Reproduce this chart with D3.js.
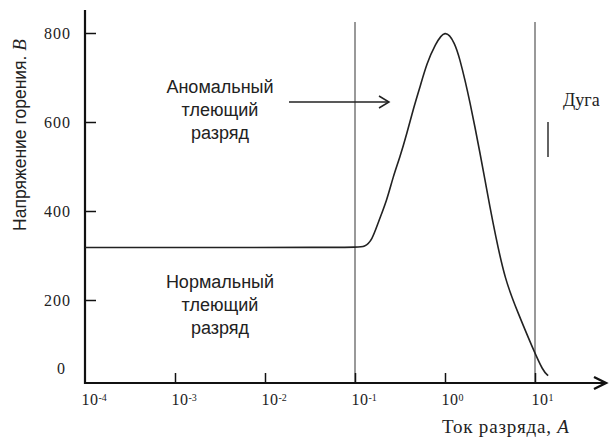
<!DOCTYPE html>
<html lang="ru">
<head>
	<meta charset="UTF-8">
	<title>ВАХ разряда</title>
	<script src="https://cdn.jsdelivr.net/npm/d3@7"></script>
	<style>
		html,body{margin:0;padding:0;background:#fff;}
		svg{display:block;}
		.sans{font-family:"Liberation Sans",Arial,sans-serif;}
		.serif{font-family:"Liberation Serif","Times New Roman",serif;}
	</style>
</head>
<body>
	<div id="main"></div>
	<script>
		// current, A (log scale) and burning voltage, V
		var currentA = [0.0001, 0.1, 0.129, 0.155, 0.18, 0.227, 0.264, 0.316, 0.378, 0.441, 0.528, 0.631, 0.774, 1.0,
			1.29, 1.47, 1.67, 1.9, 2.15, 2.45, 2.78, 3.16, 3.59, 4.64, 6.47, 9.5, 12.3, 14.0];
		var voltageV = [318, 318, 319, 335, 373, 425, 476, 521, 575, 627, 679, 733, 773, 810,
			778, 739, 694, 643, 589, 530, 470, 409, 351, 245, 171, 90, 40, 30];
		var xTicks = [1e-4, 1e-3, 1e-2, 1e-1, 1e0, 1e1];
		var xTickExp = ["-4", "-3", "-2", "-1", "0", "1"];
		var yTicks = [0, 200, 400, 600, 800];
		var boundaries = [0.1, 10];
		var anomalLabel = ["Аномальный", "тлеющий", "разряд"];
		var normalLabel = ["Нормальный", "тлеющий", "разряд"];

		var w = 612, h = 442, axisY = 383, axisX = 85;
		var svg = d3.select("#main").append("svg")
			.attr("width", w).attr("height", h);
		svg.append("rect").attr("width", w).attr("height", h).attr("fill", "#fff");

		var x = d3.scaleLog().domain([1e-4, 10]).range([85, 535]);
		var y = d3.scaleLinear().domain([0, 800]).range([389, 33]);

		// boundary lines
		svg.selectAll(".bound").data(boundaries).enter().append("line")
			.attr("x1", d => x(d)).attr("x2", d => x(d))
			.attr("y1", 22).attr("y2", axisY)
			.attr("stroke", "#555").attr("stroke-width", 1.2);

		// y axis
		var gy = svg.append("g").attr("transform", "translate(" + axisX + ",0)")
			.call(d3.axisLeft(y).tickValues(yTicks).tickSize(-11).tickPadding(14));
		gy.select(".domain").remove();
		gy.selectAll(".tick line").attr("stroke", "#111").attr("stroke-width", 1.5);
		gy.selectAll(".tick text").attr("class", "serif").attr("font-size", 16)
			.attr("letter-spacing", 1).attr("fill", "#222");
		gy.selectAll(".tick").filter(d => d === 0).each(function() {
			d3.select(this).select("line").remove();
			d3.select(this).select("text").attr("y", -21).attr("x", -19);
		});
		svg.append("line").attr("x1", axisX).attr("x2", axisX).attr("y1", 10).attr("y2", axisY + 1)
			.attr("stroke", "#111").attr("stroke-width", 2.2);

		// x axis
		var gx = svg.append("g").attr("transform", "translate(0," + axisY + ")")
			.call(d3.axisBottom(x).tickValues(xTicks).tickSize(-10).tickPadding(11).tickFormat(""));
		gx.select(".domain").remove();
		gx.selectAll(".tick line").attr("stroke", "#111").attr("stroke-width", 1.5);
		gx.selectAll(".tick").filter(d => d === 1e-4).select("line").remove();
		gx.selectAll(".tick text").each(function(d, i) {
			var t = d3.select(this).attr("class", "serif").attr("fill", "#222")
				.attr("text-anchor", "start").attr("x", -4).attr("font-size", 16);
			t.append("tspan").attr("letter-spacing", 0.5).text("10");
			t.append("tspan").attr("dy", "-0.45em").attr("font-size", 10).text(xTickExp[i]);
		});
		svg.append("line").attr("x1", axisX - 1).attr("x2", 605).attr("y1", axisY).attr("y2", axisY)
			.attr("stroke", "#111").attr("stroke-width", 2.2);
		svg.append("path").attr("d", "M594,377L606,383L594,389")
			.attr("fill", "none").attr("stroke", "#111").attr("stroke-width", 2.4);

		// curve
		var line = d3.line().x(d => x(d[0])).y(d => y(d[1])).curve(d3.curveBasis);
		svg.append("path").datum(d3.zip(currentA, voltageV))
			.attr("d", line).attr("fill", "none")
			.attr("stroke", "#222").attr("stroke-width", 1.6);

		// region labels
		function block(lines, cx, cy) {
			svg.append("text").attr("class", "sans").attr("font-size", 18).attr("fill", "#222")
				.attr("text-anchor", "middle")
				.selectAll("tspan").data(lines).enter().append("tspan")
				.attr("x", cx).attr("y", (d, i) => cy + i * 23).text(d => d);
		}
		block(anomalLabel, 220, 93);
		block(normalLabel, 220, 288);

		// arrow to the anomalous region
		svg.append("line").attr("x1", 289).attr("x2", 388).attr("y1", 102).attr("y2", 102)
			.attr("stroke", "#222").attr("stroke-width", 1.5);
		svg.append("path").attr("d", "M379,96L389,102L379,108")
			.attr("fill", "none").attr("stroke", "#222").attr("stroke-width", 1.5);

		// arc label
		svg.append("text").attr("class", "serif").attr("font-size", 18).attr("fill", "#222")
			.attr("x", 563).attr("y", 106).text("Дуга");
		svg.append("line").attr("x1", 548).attr("x2", 548).attr("y1", 122).attr("y2", 157)
			.attr("stroke", "#222").attr("stroke-width", 1.4);

		// axis titles
		var xt = svg.append("text").attr("class", "serif").attr("font-size", 19).attr("fill", "#222")
			.attr("letter-spacing", 0.8).attr("x", 442).attr("y", 433);
		xt.append("tspan").text("Ток разряда, ");
		xt.append("tspan").attr("font-style", "italic").text("А");

		var yt = svg.append("text").attr("class", "sans").attr("font-size", 17.5).attr("fill", "#222")
			.attr("text-anchor", "middle").attr("dy", "0.35em")
			.attr("transform", "translate(20,135) rotate(-90)");
		yt.append("tspan").text("Напряжение горения. ");
		yt.append("tspan").attr("class", "serif").attr("font-style", "italic").attr("font-size", 19).text("В");
	</script>
</body>
</html>
